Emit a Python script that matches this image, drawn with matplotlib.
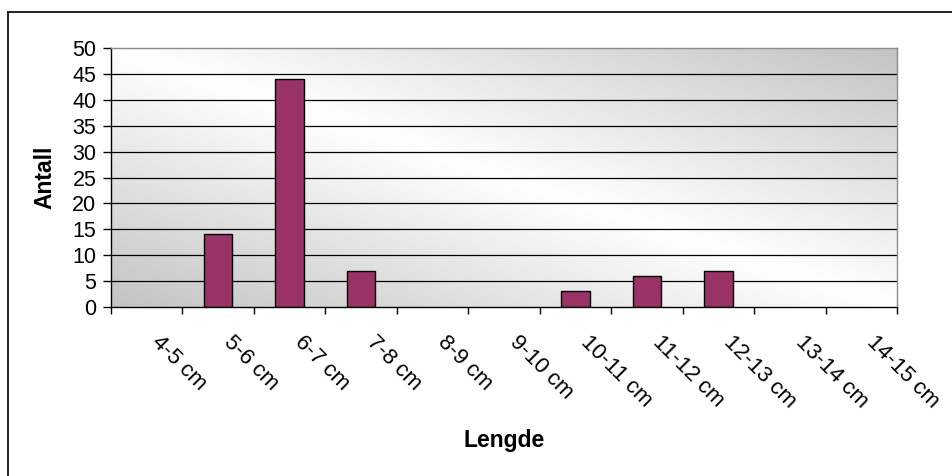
import numpy as np
import matplotlib
matplotlib.use('Agg')
import matplotlib.pyplot as plt
from matplotlib.lines import Line2D
import matplotlib.transforms as mtrans

# ---- data ----
categories = ["4-5 cm", "5-6 cm", "6-7 cm", "7-8 cm", "8-9 cm", "9-10 cm",
              "10-11 cm", "11-12 cm", "12-13 cm", "13-14 cm", "14-15 cm"]
counts = [0, 14, 44, 7, 0, 0, 3, 6, 7, 0, 0]
y_ticks = [0, 5, 10, 15, 20, 25, 30, 35, 40, 45, 50]
x_title = "Lengde"
y_title = "Antall"

plt.rcParams['font.family'] = ['Liberation Sans', 'DejaVu Sans']

W, H = 952, 476
fig = plt.figure(figsize=(W / 100, H / 100), dpi=100)
fig.patch.set_facecolor('white')
ax = fig.add_axes([111 / W, 1 - 307 / H, 786 / W, 259 / H])

# gradient background (light along the top-left -> bottom-right diagonal)
n = 400
xn = np.linspace(0, 1, n)
yn = np.linspace(1, 0, n)
X, Y = np.meshgrid(xn, yn)
d = np.abs(X + Y - 1)
dark, light = 0.765, 1.0
g = light - (light - dark) * d
img = np.dstack([g, g, g])
ax.imshow(img, extent=[0, 1, 0, 1], transform=ax.transAxes, aspect='auto',
          zorder=0, interpolation='bilinear')

x = np.arange(len(categories))
edge_w = [1.0 if c > 0 else 0.0 for c in counts]
ax.bar(x, counts, width=0.4, color='#993366', edgecolor='black',
       linewidth=edge_w, zorder=3)

for v in y_ticks[1:-1]:
    ax.axhline(v, color='black', lw=0.9, zorder=1)

ax.set_xlim(-0.5, len(categories) - 0.5)
ax.set_ylim(y_ticks[0], y_ticks[-1])

# spines
ax.spines['left'].set_color('black')
ax.spines['bottom'].set_color('black')
ax.spines['top'].set_color('#8c8c8c')
ax.spines['right'].set_color('#8c8c8c')
for s in ax.spines.values():
    s.set_linewidth(1.0)
    s.set_zorder(4)

ax.set_yticks(y_ticks)
ax.set_yticklabels([str(v) for v in y_ticks])
ax.tick_params(axis='y', direction='out', length=5.5, width=1, pad=5,
               labelsize=15.5, colors='black')

ax.set_xticks(np.arange(len(categories) + 1) - 0.5)
ax.set_xticklabels([])
ax.tick_params(axis='x', direction='out', length=5, width=1, colors='black')

offset = mtrans.ScaledTranslation(16 / 100, -25 / 100, fig.dpi_scale_trans)
for i, lab in enumerate(categories):
    ax.text(i, 0, lab, transform=ax.get_xaxis_transform() + offset,
            rotation=-45, rotation_mode='anchor', ha='left', va='top',
            fontsize=16, color='black')

fig.text(45 / W, 1 - 177.5 / H, y_title, rotation=90, fontsize=16.5,
         fontweight='bold', ha='center', va='center')
fig.text(504 / W, 1 - 440 / H, x_title, fontsize=16.5, fontweight='bold',
         ha='center', va='center')

# outer chart frame (left and top edges visible)
fig.add_artist(Line2D([8 / W, 8 / W], [0, 1 - 12 / H], color='black', lw=1.2,
                      transform=fig.transFigure))
fig.add_artist(Line2D([8 / W, 1], [1 - 12 / H, 1 - 12 / H], color='black', lw=1.2,
                      transform=fig.transFigure))

fig.savefig('out.png', dpi=100)
